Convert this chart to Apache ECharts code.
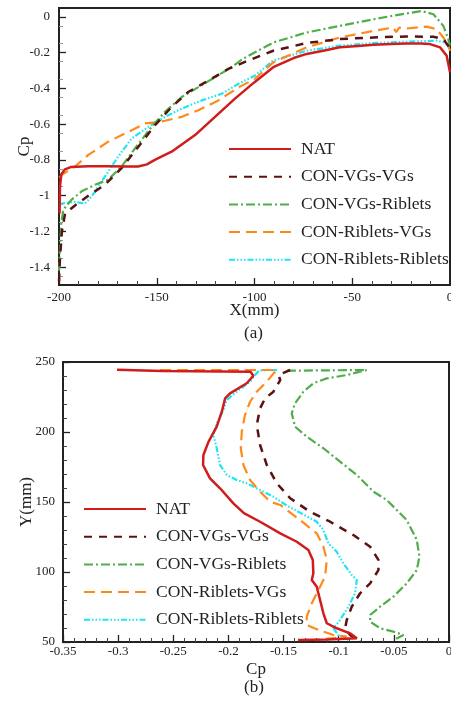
<!DOCTYPE html>
<html>
<head>
<meta charset="utf-8">
<script src="https://cdn.jsdelivr.net/npm/echarts@6/dist/echarts.min.js"></script>
<style>
  html, body { margin: 0; padding: 0; background: #fff; }
  #charts { width: 451px; height: 702px; }
</style>
</head>
<body>
<div id="charts"></div>
<script>
// series names (same five cases in both panels)
const names = ["NAT", "CON-VGs-VGs", "CON-VGs-Riblets", "CON-Riblets-VGs", "CON-Riblets-Riblets"];

// panel (a): X(mm) vs Cp
const natX = [-199.7, -199.5, -198.8, -197, -194, -185, -175, -165, -159.6, -155, -151, -142.4, -130.4, -120.2, -110, -100, -90.4, -80, -73.3, -63, -56.3, -47, -39.2, -30, -22.2, -15, -10.2, -5.1, -1.7, 0];
const natCpA = [-1.1, -0.95, -0.88, -0.853, -0.84, -0.835, -0.835, -0.837, -0.837, -0.825, -0.8, -0.754, -0.661, -0.559, -0.457, -0.365, -0.281, -0.23, -0.207, -0.185, -0.17, -0.162, -0.156, -0.151, -0.148, -0.148, -0.152, -0.17, -0.217, -0.31];
const vvX = [-200, -199.5, -198.5, -196.9, -191.8, -185, -176.5, -168, -159.4, -150.9, -142.4, -133.9, -123.6, -113.4, -103.2, -90.4, -73.3, -56.3, -39.2, -22.2, -8.5, -3.4, -0.9, 0];
const vvCpA = [-1.48, -1.35, -1.2, -1.1, -1.055, -1.0, -0.939, -0.846, -0.726, -0.606, -0.504, -0.42, -0.356, -0.291, -0.244, -0.189, -0.146, -0.124, -0.115, -0.109, -0.111, -0.124, -0.161, -0.19];
const vrX = [-200, -199.5, -198.8, -197.8, -193.5, -188.4, -181.6, -174.8, -168, -161.1, -152.6, -145.8, -137.2, -128.7, -120.2, -111.7, -106, -90.4, -73.3, -56.3, -39.2, -22.2, -14.5, -8.5, -3.4, -0.9, 0];
const vrCpA = [-1.42, -1.3, -1.15, -1.078, -1.022, -0.976, -0.939, -0.911, -0.837, -0.735, -0.615, -0.531, -0.448, -0.393, -0.337, -0.281, -0.235, -0.143, -0.087, -0.05, -0.013, 0.02, 0.033, 0.015, -0.05, -0.124, -0.16];
const rvX = [-199.8, -198.6, -191.8, -185, -174.8, -164.5, -156, -150, -145.8, -137.2, -128.7, -118.5, -107.5, -99.7, -90.4, -73.3, -56.3, -39.2, -29, -27.5, -26, -22.2, -11.9, -6.8, -3.4, -0.9, 0];
const rvCpA = [-0.9, -0.883, -0.837, -0.772, -0.698, -0.643, -0.596, -0.59, -0.581, -0.559, -0.522, -0.467, -0.39, -0.346, -0.254, -0.17, -0.115, -0.078, -0.059, -0.085, -0.06, -0.065, -0.054, -0.069, -0.115, -0.161, -0.19];
const rrX = [-200, -198.6, -192, -186.7, -183.3, -176.5, -169.7, -162.8, -154.3, -145.8, -137.2, -127, -116.8, -107.5, -99.7, -90.4, -73.3, -56.3, -39.2, -22.2, -6.8, -2.4, -0.3];
const rrCpA = [-1.045, -1.044, -1.035, -1.044, -1.004, -0.893, -0.781, -0.68, -0.615, -0.559, -0.513, -0.467, -0.43, -0.37, -0.328, -0.244, -0.189, -0.161, -0.146, -0.139, -0.133, -0.143, -0.17];

// panel (b): Cp vs Y(mm)
const natCpB = [-0.301, -0.26, -0.18, -0.1774, -0.1834, -0.1985, -0.203, -0.206, -0.2106, -0.218, -0.2227, -0.223, -0.2167, -0.2076, -0.1955, -0.186, -0.1713, -0.153, -0.138, -0.1275, -0.1235, -0.123, -0.1244, -0.1199, -0.1169, -0.1139, -0.1108, -0.1018, -0.0897, -0.0836, -0.11, -0.137];
const natY = [244.5, 243.5, 243.1, 240.2, 234.8, 227.6, 224, 214.5, 203.8, 193.1, 183.6, 176.4, 166.9, 159.8, 149, 142, 135.9, 127.6, 121.6, 115.7, 108.6, 99.1, 94.3, 89.5, 80, 70.5, 63.4, 59.8, 56.2, 52.6, 51.8, 51.4];
const vvCpB = [-0.144, -0.1547, -0.153, -0.1592, -0.1668, -0.1713, -0.1743, -0.1713, -0.1652, -0.1562, -0.144, -0.126, -0.1078, -0.0867, -0.0715, -0.064, -0.064, -0.0715, -0.0806, -0.0882, -0.0927, -0.0942, -0.0897, -0.0806];
const vvY = [244.3, 240.7, 237.1, 228.8, 224, 216.9, 205, 190.7, 176.4, 163.4, 152.7, 143, 135.9, 126.4, 118.1, 108.6, 101.4, 91.9, 84.8, 75.2, 65.7, 59.8, 55, 50.2];
const vrCpB = [-0.147, -0.0745, -0.0927, -0.1108, -0.123, -0.132, -0.1396, -0.1426, -0.1396, -0.129, -0.1139, -0.0988, -0.0836, -0.0685, -0.0564, -0.0383, -0.0292, -0.0268, -0.0292, -0.0383, -0.0504, -0.0625, -0.0715, -0.0715, -0.0625, -0.0504, -0.0413, -0.0504];
const vrY = [243.8, 244.3, 240.7, 238.3, 234.8, 228.8, 220.5, 213.4, 203.8, 196.7, 188.4, 178.8, 169.3, 157.4, 151.4, 137.1, 122.9, 111, 101.4, 91.9, 82.4, 75.2, 69.3, 64.5, 59.8, 57.4, 55, 51.4];
const rvCpB = [-0.262, -0.1562, -0.159, -0.1652, -0.1743, -0.1804, -0.185, -0.1879, -0.1888, -0.1864, -0.1804, -0.1713, -0.1622, -0.153, -0.135, -0.1199, -0.1139, -0.1108, -0.1124, -0.1184, -0.1244, -0.129, -0.129, -0.1184, -0.1048, -0.0927, -0.12];
const rvY = [244.3, 244.3, 241.9, 236, 228.8, 221.6, 212.1, 200.2, 188.4, 176.4, 165.7, 157.4, 150.2, 147.9, 137.1, 127.6, 118.1, 108.6, 96.7, 87.1, 77.6, 68.1, 62.1, 58.6, 55, 53.8, 51.5];
const rrCpB = [-0.156, -0.172, -0.1758, -0.1804, -0.1925, -0.2015, -0.2046, -0.2106, -0.2137, -0.2106, -0.2076, -0.2015, -0.1925, -0.1834, -0.1713, -0.1592, -0.1471, -0.1199, -0.1139, -0.1094, -0.1018, -0.0958, -0.0882, -0.0836, -0.0852, -0.0912, -0.0988, -0.1048, -0.1003, -0.0912];
const rrY = [244.3, 244, 240.7, 236, 228.8, 222.9, 215.7, 206.2, 197.9, 188.4, 176.4, 169.3, 165.7, 163.4, 158.6, 153.8, 147.5, 135.9, 130, 120.5, 114.5, 106.2, 97.9, 94.3, 84.8, 75.2, 65.7, 59.8, 55, 51.4];

// tick labels
const cpTicksA = [0, -0.2, -0.4, -0.6, -0.8, -1, -1.2, -1.4];

const font = "Liberation Serif";
const styles = [
  { color: "#d01c1c", type: "solid", width: 2.5 },
  { color: "#5a1212", type: [8, 7], width: 2.5 },
  { color: "#4fae4a", type: [9, 3, 2, 3], width: 2.2 },
  { color: "#ff8a1c", type: [11, 6], width: 2.2 },
  { color: "#1ae6f5", type: [6, 2, 1.5, 2, 1.5, 2, 1.5, 2], width: 2.2 }
];

function zip(a, b) {
  return a.map((v, i) => [v, b[i]]);
}

function drawing() {
  const dataA = [zip(natX, natCpA), zip(vvX, vvCpA), zip(vrX, vrCpA), zip(rvX, rvCpA), zip(rrX, rrCpA)];
  const dataB = [zip(natCpB, natY), zip(vvCpB, vvY), zip(vrCpB, vrY), zip(rvCpB, rvY), zip(rrCpB, rrY)];
  let series = [];
  [dataA, dataB].forEach((set, g) => {
    set.forEach((d, i) => {
      series.push({
        name: names[i],
        type: "line",
        xAxisIndex: g,
        yAxisIndex: g,
        data: d,
        symbol: "none",
        smooth: false,
        animation: false,
        lineStyle: styles[i],
        itemStyle: { color: styles[i].color },
        z: 10 - i
      });
    });
  });

  const axisCommon = {
    axisLine: { show: true, onZero: false, lineStyle: { color: "#222", width: 2 } },
    axisTick: { inside: true, length: 7, lineStyle: { color: "#222", width: 1.3 } },
    axisLabel: { color: "#222", fontFamily: font, fontSize: 13 },
    splitLine: { show: false },
    nameMoveOverlap: false,
    nameTextStyle: { color: "#222", fontFamily: font, fontSize: 17 }
  };

  const legendCommon = {
    orient: "vertical",
    data: names,
    itemWidth: 62,
    itemHeight: 14,
    itemGap: 9.7,
    padding: 0,
    selectedMode: false,
    itemStyle: { opacity: 0 },
    textStyle: { fontFamily: font, fontSize: 17.5, color: "#222", lineHeight: 14, padding: [0, 0, 0, 5] }
  };

  let option = {
    backgroundColor: "#fff",
    grid: [
      { left: 59, right: 1, top: 8, height: 277, outerBoundsMode: "none", show: true, borderColor: "#222", borderWidth: 2 },
      { left: 63, right: 2, top: 362, height: 280, outerBoundsMode: "none", show: true, borderColor: "#222", borderWidth: 2 }
    ],
    xAxis: [
      Object.assign({}, axisCommon, {
        type: "value", gridIndex: 0, min: -200, max: 0, interval: 50,
        minorTick: { show: true, splitNumber: 5, length: 4, lineStyle: { color: "#444" } },
        name: "X(mm)", nameLocation: "middle", nameGap: 17,
        axisLabel: { color: "#222", fontFamily: font, fontSize: 13, margin: 6 }
      }),
      Object.assign({}, axisCommon, {
        type: "value", gridIndex: 1, min: -0.35, max: 0, interval: 0.05,
        minorTick: { show: true, splitNumber: 5, length: 4, lineStyle: { color: "#444" } },
        name: "Cp", nameLocation: "middle", nameGap: 19,
        axisLabel: { color: "#222", fontFamily: font, fontSize: 13, margin: 3 }
      })
    ],
    yAxis: [
      Object.assign({}, axisCommon, {
        type: "value", gridIndex: 0, min: -1.5, max: 0.05, interval: 0.1,
        axisTick: { inside: true, length: 7, customValues: cpTicksA, lineStyle: { color: "#222", width: 1.3 } },
        axisLabel: { color: "#222", fontFamily: font, fontSize: 13, margin: 9, customValues: cpTicksA },
        minorTick: { show: true, splitNumber: 2, length: 4, lineStyle: { color: "#999" } },
        name: "Cp", nameLocation: "middle", nameGap: 26
      }),
      Object.assign({}, axisCommon, {
        type: "value", gridIndex: 1, min: 50, max: 250, interval: 50,
        minorTick: { show: true, splitNumber: 5, length: 4, lineStyle: { color: "#444" } },
        name: "Y(mm)", nameLocation: "middle", nameGap: 28,
        axisLabel: { color: "#222", fontFamily: font, fontSize: 13, margin: 8 }
      })
    ],
    legend: [
      Object.assign({}, legendCommon, { left: 228, top: 140 }),
      Object.assign({}, legendCommon, { left: 83, top: 500 })
    ],
    graphic: [
      { type: "text", left: 244, top: 325, style: { text: "(a)", font: "17px " + font, fill: "#222" } },
      { type: "text", left: 244, top: 679, style: { text: "(b)", font: "17px " + font, fill: "#222" } }
    ],
    series: series
  };
  const chartObj = echarts.init(document.getElementById("charts"));
  chartObj.setOption(option);
  window.addEventListener("resize", function() {
    chartObj.resize();
  });
}

drawing();
</script>
</body>
</html>
